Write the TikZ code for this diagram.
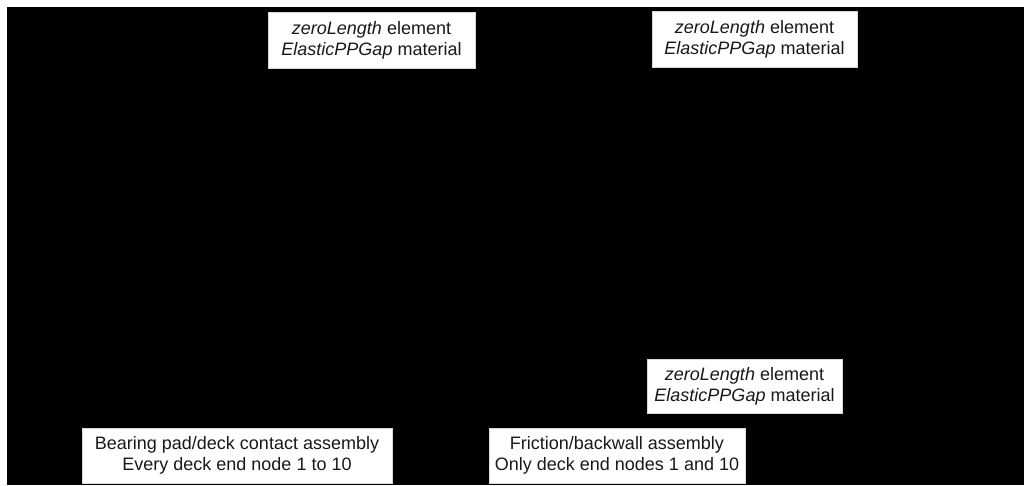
\documentclass[tikz,border=0pt]{standalone}
\usepackage{fontspec}
\setmainfont{Liberation Sans}
\begin{document}
\begin{tikzpicture}[x=1pt,y=-1pt,
  labelbox/.style={fill=white, draw=black!15, line width=0.6pt, inner sep=0pt, align=center,
    font=\fontsize{18pt}{21pt}\selectfont, text=black!90}]
\useasboundingbox (0,0) rectangle (1024,485);
\fill[white] (0,0) rectangle (1024,485);
\fill[black] (7,7) rectangle (1024,485);
\node[labelbox, minimum width=207pt, minimum height=56pt] (z1) at (371.5,40) {\textit{zeroLength} element\\\textit{ElasticPPGap} material};
\node[labelbox, minimum width=205pt, minimum height=56pt] (z2) at (754.5,39) {\textit{zeroLength} element\\\textit{ElasticPPGap} material};
\node[labelbox, minimum width=195pt, minimum height=54pt] (z3) at (744.5,386) {\textit{zeroLength} element\\\textit{ElasticPPGap} material};
\node[labelbox, minimum width=310pt, minimum height=55pt] (bp) at (237,455.5) {Bearing pad/deck contact assembly\\Every deck end node 1 to 10};
\node[labelbox, minimum width=256pt, minimum height=55pt] (fb) at (617,455.5) {Friction/backwall assembly\\Only deck end nodes 1 and 10};
\end{tikzpicture}
\end{document}
